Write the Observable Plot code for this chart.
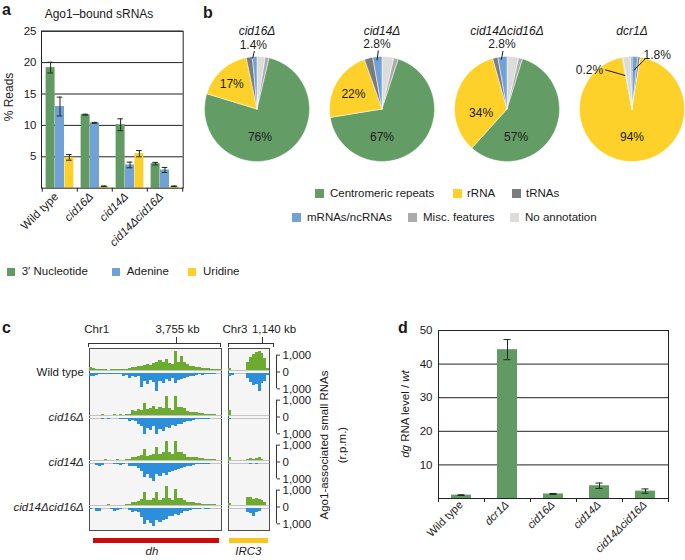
<!DOCTYPE html>
<html><head><meta charset="utf-8">
<script src="https://cdn.jsdelivr.net/npm/d3@7"></script>
<script src="https://cdn.jsdelivr.net/npm/@observablehq/plot@0.6"></script>
<style>
body{margin:0;width:685px;height:560px;position:relative;overflow:hidden;background:#fff;font-family:"Liberation Sans",Arial,Helvetica,sans-serif;color:#1a1a1a}
</style></head><body>
<script>
// ---------------- DATA ----------------
// Panel a
const aSamples = ["Wild type", "cid16Δ", "cid14Δ", "cid14Δcid16Δ"];
const aSeries = ["3′ Nucleotide", "Adenine", "Uridine"];
const aNucleotide = [19.2, 11.7, 10.1, 3.9];
const aNucleotideErr = [0.85, 0.08, 0.95, 0.2];
const aAdenine = [13.0, 10.4, 3.7, 2.9];
const aAdenineErr = [1.5, 0.08, 0.45, 0.4];
const aUridine = [4.9, 0.3, 5.5, 0.3];
const aUridineErr = [0.45, 0.05, 0.5, 0.05];
const aTicks = [5, 10, 15, 20, 25];

// Panel b
const pieSamples = ["cid16Δ", "cid14Δ", "cid14Δcid16Δ", "dcr1Δ"];
const pieCategories = ["Centromeric repeats", "rRNA", "tRNAs", "mRNAs/ncRNAs", "Misc. features", "No annotation"];
const pieCid16 = [76, 17, 1.9, 1.4, 1.2, 2.5];
const pieCid14 = [67, 22, 2.6, 2.8, 1.4, 3.6];
const pieCid14Cid16 = [57, 34, 1.6, 2.8, 1.2, 3.6];
const pieDcr1 = [0.2, 94, 0.7, 1.8, 0.5, 2.3];

// Panel c (reads per million, binned)
const cSamples = ["Wild type", "cid16Δ", "cid14Δ", "cid14Δcid16Δ"];
const dhWildTypePlus = [150,100,40,30,50,30,20,40,30,60,50,60,80,100,150,180,220,260,300,350,280,400,450,600,500,650,420,380,1150,450,820,500,350,250,220,200,180,120,100,90,80,50,40,30];
const dhWildTypeMinus = [150,200,100,80,60,80,50,60,80,40,60,200,120,300,150,250,200,850,500,650,400,550,1050,450,600,350,500,300,600,400,350,300,250,200,150,100,80,120,60,40,50,30,20,20];
const dhCid16Plus = [20,0,20,0,30,20,0,20,30,0,30,20,30,40,300,250,350,300,700,350,400,550,350,450,400,1100,400,300,1150,450,500,400,220,200,180,150,120,100,80,60,60,30,20,10];
const dhCid16Minus = [0,0,0,0,30,0,40,0,20,0,60,80,30,150,100,200,350,500,950,600,700,500,950,650,750,550,600,400,500,350,350,250,200,150,100,80,60,40,30,50,20,0,0,0];
const dhCid14Plus = [20,0,0,20,0,30,0,20,0,30,20,0,30,60,150,200,250,300,650,250,300,350,800,350,450,1150,500,350,1100,450,450,350,200,180,150,150,120,100,80,60,40,60,20,0];
const dhCid14Minus = [0,0,100,150,100,0,0,0,60,40,100,80,0,150,200,200,300,500,850,650,900,1050,650,800,600,700,550,500,400,350,300,250,200,150,100,80,50,40,60,40,30,0,0,0];
const dhDoublePlus = [20,0,0,0,20,0,30,0,20,0,20,0,30,40,150,200,250,350,750,300,300,400,750,300,400,1100,400,300,950,400,400,300,200,180,150,120,100,80,60,50,40,30,20,0];
const dhDoubleMinus = [60,0,150,200,0,0,0,80,150,100,60,0,0,100,250,150,250,550,950,700,900,1050,700,850,700,650,500,450,350,400,300,200,150,100,80,60,40,30,60,40,30,0,0,0];
const irc3WildTypePlus = [100,0,0,0,0,0,450,750,950,1050,1100,1000,700,100];
const irc3WildTypeMinus = [150,100,0,0,0,0,300,550,700,650,1050,600,450,100];
const irc3Cid16Plus = [300,0,0,0,0,0,0,0,0,0,0,0,0,0];
const irc3Cid16Minus = [80,0,0,0,0,0,0,0,0,0,0,0,0,0];
const irc3Cid14Plus = [150,0,0,0,0,0,60,120,80,100,150,60,0,0];
const irc3Cid14Minus = [0,0,0,0,0,0,0,50,30,60,0,0,0,0];
const irc3DoublePlus = [100,0,0,0,0,0,500,450,350,400,350,300,150,0];
const irc3DoubleMinus = [0,0,0,0,0,0,250,300,500,250,200,0,0,0];
const cScaleTicks = [-1000, 0, 1000];

// Panel d
const dSamples = ["Wild type", "dcr1Δ", "cid16Δ", "cid14Δ", "cid14Δcid16Δ"];
const dLevel = [1.0, 44.3, 1.35, 3.8, 2.2];
const dErr = [0.1, 3.0, 0.15, 0.8, 0.65];
const dTicks = [10, 20, 30, 40, 50];

// ---------------- STYLE / HELPERS ----------------
const GREEN = "#619b63", BLUE = "#70a2d7", YELLOW = "#fcd02b";
const pieColors = ["#649c66", "#fdd12a", "#7c7c7c", "#72a1d5", "#ababab", "#dcdcdc"];
const FONT = "'Liberation Sans', Arial, Helvetica, sans-serif";
const baseStyle = {fontFamily: FONT, fontSize: "11.5px", color: "#1a1a1a", background: "transparent", overflow: "visible"};
function mount(svg, left, top) {
  svg.style.position = "absolute"; svg.style.left = left + "px"; svg.style.top = top + "px";
  document.body.appendChild(svg);
}
function txt(s, x, y, o = {}) {
  const fs = o.size || 11.5;
  const el = document.createElement("div");
  el.innerHTML = s;
  const tx = o.anchor === "middle" ? "-50%" : o.anchor === "end" ? "-100%" : "0";
  el.style.cssText = `position:absolute;white-space:nowrap;line-height:1;font-size:${fs}px;left:${x}px;top:${y - 0.83 * fs}px;transform:translateX(${tx});` +
    (o.bold ? "font-weight:bold;" : "") + (o.italic ? "font-style:italic;" : "");
  document.body.appendChild(el);
}
function vtxt(s, cx, cy, o = {}) {
  const fs = o.size || 11.5;
  const el = document.createElement("div");
  el.innerHTML = s;
  el.style.cssText = `position:absolute;white-space:nowrap;line-height:1;font-size:${fs}px;left:${cx}px;top:${cy}px;transform:translate(-50%,-50%) rotate(-90deg);`;
  document.body.appendChild(el);
}
function box(x, y, w, h, css) {
  const el = document.createElement("div");
  el.style.cssText = `position:absolute;left:${x}px;top:${y}px;width:${w}px;height:${h}px;box-sizing:border-box;${css}`;
  document.body.appendChild(el);
}
const hline = (x1, x2, y) => box(x1, y, x2 - x1, 1, "background:#333");
const vline = (x, y1, y2) => box(x, y1, 1, y2 - y1, "background:#333");
const italicIf = s => s !== "Wild type";

// ---------------- PANEL A ----------------
{
  const values = [aNucleotide, aAdenine, aUridine];
  const errs = [aNucleotideErr, aAdenineErr, aUridineErr];
  const fills = [GREEN, BLUE, YELLOW];
  const rows = [];
  aSamples.forEach((s, i) => aSeries.forEach((k, j) => rows.push({sample: s, series: k, j, value: values[j][i], err: errs[j][i]})));
  const mL = 41, mT = 30.7, fw = 141.7, fh = 157, mR = 4, mB = 75;
  const band = fw / aSamples.length, bw = 9.4, cap = 6;
  const marks = [Plot.ruleY(aTicks, {stroke: "#222"})];
  aSeries.forEach((k, j) => {
    const sub = rows.filter(d => d.j === j);
    const dx = (j - 1) * bw;
    marks.push(
      Plot.barY(sub, {x: "sample", y: "value", fill: fills[j], insetLeft: (band - bw) / 2, insetRight: (band - bw) / 2, dx}),
      Plot.ruleX(sub, {x: "sample", y1: d => d.value - d.err, y2: d => d.value + d.err, dx, stroke: "#1d2b1d", strokeWidth: 1}),
      Plot.tickY(sub, {x: "sample", y: d => d.value + d.err, dx, insetLeft: (band - cap) / 2, insetRight: (band - cap) / 2, stroke: "#1d2b1d"}),
      Plot.tickY(sub, {x: "sample", y: d => d.value - d.err, dx, insetLeft: (band - cap) / 2, insetRight: (band - cap) / 2, stroke: "#1d2b1d"})
    );
  });
  marks.push(
    Plot.frame({stroke: "#222"}),
    Plot.axisY(aTicks, {tickSize: 0, tickPadding: 5, label: null}),
    Plot.axisX({tickSize: 4, tickFormat: () => "", dx: -band / 2, label: null, stroke: "#222"}),
    Plot.axisX([aSamples[aSamples.length - 1]], {tickSize: 4, tickFormat: () => "", dx: band / 2, label: null, stroke: "#222"}),
    Plot.text(aSamples.filter(s => !italicIf(s)), {x: d => d, text: d => d, frameAnchor: "bottom", rotate: -45, textAnchor: "end", dy: 9, dx: -1}),
    Plot.text(aSamples.filter(italicIf), {x: d => d, text: d => d, frameAnchor: "bottom", rotate: -45, textAnchor: "end", dy: 9, dx: -1, fontStyle: "italic"})
  );
  const svg = Plot.plot({
    width: mL + fw + mR, height: mT + fh + mB,
    marginLeft: mL, marginTop: mT, marginRight: mR, marginBottom: mB,
    style: baseStyle,
    x: {domain: aSamples, padding: 0},
    y: {domain: [0, 25]},
    marks
  });
  mount(svg, 0, 0);
  txt("a", 2, 15, {bold: true, size: 16});
  txt("Ago1–bound sRNAs", 99, 18, {anchor: "middle", size: 12});
  vtxt("% Reads", 9, 97, {size: 12});
  const legX = [[7.3, 21.7], [111.7, 126.7], [188.3, 203]];
  aSeries.forEach((k, j) => {
    box(legX[j][0], 267.7, 8, 8, `background:${fills[j]}`);
    txt(k, legX[j][1], 276, {size: 11.5});
  });
}

// ---------------- PANEL B ----------------
{
  const pieValues = [pieCid16, pieCid14, pieCid14Cid16, pieDcr1];
  // clockwise drawing order from 12 o'clock (layout)
  const orderStd = ["No annotation", "Misc. features", "Centromeric repeats", "rRNA", "tRNAs", "mRNAs/ncRNAs"];
  const drawOrder = {"cid16Δ": orderStd, "cid14Δ": orderStd, "cid14Δcid16Δ": orderStd,
    "dcr1Δ": ["mRNAs/ncRNAs", "tRNAs", "rRNA", "Centromeric repeats", "No annotation", "Misc. features"]};
  // inside label placement: [angle deg clockwise from top, radius]
  const insideAt = {
    "cid16Δ": {"Centromeric repeats": [174, 0.54], "rRNA": [315, 0.68]},
    "cid14Δ": {"Centromeric repeats": [180, 0.53], "rRNA": [297, 0.61]},
    "cid14Δcid16Δ": {"Centromeric repeats": [162, 0.56], "rRNA": [261, 0.5]},
    "dcr1Δ": {"rRNA": [180, 0.54]}
  };
  // outside callouts (label + leader line), in radius units
  const callouts = [
    {pie: "cid16Δ", cat: "mRNAs/ncRNAs", tx: -0.07, ty: 1.22, x1: -0.05, y1: 1.105, x2: -0.084, y2: 0.962},
    {pie: "cid14Δ", cat: "mRNAs/ncRNAs", tx: -0.095, ty: 1.23, x1: -0.07, y1: 1.115, x2: -0.095, y2: 0.925},
    {pie: "cid14Δcid16Δ", cat: "mRNAs/ncRNAs", tx: -0.095, ty: 1.23, x1: -0.076, y1: 1.103, x2: -0.108, y2: 0.94},
    {pie: "dcr1Δ", cat: "mRNAs/ncRNAs", tx: 0.48, ty: 1.02, x1: 0.253, y1: 0.956, x2: 0.03, y2: 0.733},
    {pie: "dcr1Δ", cat: "Centromeric repeats", tx: -0.81, ty: 0.733, x1: -0.51, y1: 0.747, x2: -0.128, y2: 0.638}
  ];
  const pts = [], inLabels = [];
  const lookup = {};
  pieSamples.forEach((p, pi) => {
    const vals = pieValues[pi];
    const total = d3.sum(vals);
    lookup[p] = {};
    pieCategories.forEach((c, ci) => lookup[p][c] = vals[ci]);
    let a = 0;
    drawOrder[p].forEach(c => {
      const v = lookup[p][c];
      const a0 = a, a1 = a + v / total * 360;
      a = a1;
      const key = p + "|" + c;
      pts.push({pie: p, cat: c, key, x: 0, y: 0});
      const n = Math.max(2, Math.ceil((a1 - a0) / 1.5));
      for (let k = 0; k <= n; k++) {
        const t = (a0 + (a1 - a0) * k / n) * Math.PI / 180;
        pts.push({pie: p, cat: c, key, x: Math.sin(t), y: Math.cos(t)});
      }
      pts.push({pie: p, cat: c, key, x: 0, y: 0});
      const at = insideAt[p][c];
      if (at) {
        const t = at[0] * Math.PI / 180;
        inLabels.push({pie: p, x: at[1] * Math.sin(t), y: at[1] * Math.cos(t), text: v + "%"});
      }
    });
  });
  callouts.forEach(d => d.text = lookup[d.pie][d.cat] + "%");
  const svg = Plot.plot({
    width: 480, height: 165, marginLeft: 0, marginRight: 0, marginTop: 56, marginBottom: 4,
    style: baseStyle,
    fx: {domain: pieSamples, paddingInner: 0.16, paddingOuter: 0, axis: null},
    x: {domain: [-1, 1], axis: null},
    y: {domain: [-1, 1], axis: null},
    color: {domain: pieCategories, range: pieColors},
    marks: [
      Plot.line(pts, {fx: "pie", x: "x", y: "y", z: "key", fill: "cat", stroke: "white", strokeWidth: 0.5, curve: "linear"}),
      Plot.text(inLabels, {fx: "pie", x: "x", y: "y", text: "text", fontSize: 12}),
      Plot.link(callouts, {fx: "pie", x1: "x1", y1: "y1", x2: "x2", y2: "y2", stroke: "#1a1a1a", strokeWidth: 1}),
      Plot.text(callouts, {fx: "pie", x: "tx", y: "ty", text: "text", fontSize: 12}),
      Plot.text(pieSamples, {fx: d => d, x: () => 0, y: () => 1.476, text: d => d, fontStyle: "italic", fontSize: 12})
    ]
  });
  mount(svg, 204.2, 0);
  txt("b", 203, 18, {bold: true, size: 16});
  const legend = [[315, 330, 189.3], [453, 467, 189.3], [512, 526, 189.3], [292, 307, 213], [408, 423, 213], [510, 525, 213]];
  pieCategories.forEach((c, i) => {
    const [sx, tx, sy] = legend[i];
    box(sx, sy, 8.5, 8.5, `background:${pieColors[i]}`);
    txt(c, tx, sy + 8.3, {size: 11.5});
  });
}

// ---------------- PANEL C ----------------
{
  const dhPlus = [dhWildTypePlus, dhCid16Plus, dhCid14Plus, dhDoublePlus];
  const dhMinus = [dhWildTypeMinus, dhCid16Minus, dhCid14Minus, dhDoubleMinus];
  const irPlus = [irc3WildTypePlus, irc3Cid16Plus, irc3Cid14Plus, irc3DoublePlus];
  const irMinus = [irc3WildTypeMinus, irc3Cid16Minus, irc3Cid14Minus, irc3DoubleMinus];
  const toRows = (P, M) => cSamples.flatMap((s, i) => P[i].map((v, b) => ({sample: s, bin: b, plus: v, minus: M[i][b]})));
  const dhRows = toRows(dhPlus, dhMinus), irRows = toRows(irPlus, irMinus);
  const TG = "#6cab30", TB = "#2d8fda";
  const top = 348.3, fh = 181.7;
  const trackMarks = rows => [
    Plot.ruleY([0], {dy: -1.5, stroke: "#c4c4c4"}),
    Plot.ruleY([0], {dy: 1.5, stroke: "#c4c4c4"}),
    Plot.rect(rows, {fy: "sample", x1: "bin", x2: d => d.bin + 1, y1: () => 0, y2: "plus", fill: TG, dy: -1.5, inset: 0, shapeRendering: "crispEdges"}),
    Plot.rect(rows, {fy: "sample", x1: "bin", x2: d => d.bin + 1, y1: () => 0, y2: d => -d.minus, fill: TB, dy: 1.5, inset: 0, shapeRendering: "crispEdges"})
  ];
  // boxes
  box(88.6, top - 0.7, 133.8, fh + 1.4, "border:1.4px solid #4d4d4d;background:#f5f5f5");
  box(227.6, top - 0.7, 42.4, fh + 1.4, "border:1.4px solid #4d4d4d;background:#f5f5f5");
  const dhML = 89.3, dhW = 132.4;
  const svg1 = Plot.plot({
    width: dhML + dhW, height: fh, marginLeft: dhML, marginRight: 0, marginTop: 0, marginBottom: 0,
    style: baseStyle,
    fy: {domain: cSamples, padding: 0, axis: null},
    x: {domain: [0, dhPlus[0].length], axis: null},
    y: {domain: [-1335, 1335], axis: null},
    marks: [
      ...trackMarks(dhRows),
      Plot.text(cSamples.filter(s => !italicIf(s)), {fy: d => d, text: d => d, frameAnchor: "left", textAnchor: "end", dx: -6}),
      Plot.text(cSamples.filter(italicIf), {fy: d => d, text: d => d, frameAnchor: "left", textAnchor: "end", dx: -6, fontStyle: "italic"})
    ]
  });
  mount(svg1, 0, top);
  const irML = 228.3, irW = 41, nb = irPlus[0].length;
  const svg2 = Plot.plot({
    width: irML + irW + 60, height: fh, marginLeft: irML, marginRight: 60, marginTop: 0, marginBottom: 0,
    style: baseStyle,
    fy: {domain: cSamples, padding: 0, axis: null},
    x: {domain: [0, nb], axis: null},
    y: {domain: [-1335, 1335]},
    marks: [
      ...trackMarks(irRows),
      Plot.ruleX([nb], {y1: () => cScaleTicks[0], y2: () => cScaleTicks[2], dx: 6.7, stroke: "#333"}),
      Plot.axisY(cScaleTicks, {anchor: "right", tickSize: 3, tickPadding: 3, dx: 6.7, label: null, stroke: "#333",
        tickFormat: d => d3.format(",")(Math.abs(d))})
    ]
  });
  mount(svg2, 0, top);
  txt("c", 2, 333, {bold: true, size: 16});
  txt("Chr1", 96.7, 334, {anchor: "middle"});
  txt("3,755 kb", 177.5, 334, {anchor: "middle"});
  txt("Chr3", 235, 334, {anchor: "middle"});
  txt("1,140 kb", 274, 334, {anchor: "middle"});
  hline(88.3, 220.5, 343); vline(88.3, 343, 346.5); vline(219.7, 343, 346.5); vline(176.4, 337.3, 343);
  hline(227.7, 273.8, 343); vline(227.7, 343, 346.5); vline(273, 343, 346.5); vline(262, 337.3, 343);
  box(93, 537.7, 126, 5.6, "background:#cc0c0c");
  box(229, 537.7, 39, 5.6, "background:#fbc41e");
  txt("dh", 152, 556, {anchor: "middle", italic: true});
  txt("IRC3", 248.3, 556, {anchor: "middle", italic: true});
  vtxt("Ago1-associated small RNAs", 325, 445, {size: 11.5});
  vtxt("(r.p.m.)", 342.5, 445, {size: 11.5});
}

// ---------------- PANEL D ----------------
{
  const rows = dSamples.map((s, i) => ({sample: s, value: dLevel[i], err: dErr[i]}));
  const mL = 88, mT = 20, fw = 230, fh = 168, mR = 8, mB = 62;
  const band = fw / dSamples.length, bw = 20, cap = 7;
  const svg = Plot.plot({
    width: mL + fw + mR, height: mT + fh + mB,
    marginLeft: mL, marginTop: mT, marginRight: mR, marginBottom: mB,
    style: baseStyle,
    x: {domain: dSamples, padding: 0},
    y: {domain: [0, 50]},
    marks: [
      Plot.ruleY(dTicks, {stroke: "#222"}),
      Plot.barY(rows, {x: "sample", y: "value", fill: GREEN, insetLeft: (band - bw) / 2, insetRight: (band - bw) / 2}),
      Plot.ruleX(rows, {x: "sample", y1: d => d.value - d.err, y2: d => d.value + d.err, stroke: "#1d2b1d"}),
      Plot.tickY(rows, {x: "sample", y: d => d.value + d.err, insetLeft: (band - cap) / 2, insetRight: (band - cap) / 2, stroke: "#1d2b1d"}),
      Plot.tickY(rows, {x: "sample", y: d => d.value - d.err, insetLeft: (band - cap) / 2, insetRight: (band - cap) / 2, stroke: "#1d2b1d"}),
      Plot.frame({stroke: "#222"}),
      Plot.axisY(dTicks, {tickSize: 0, tickPadding: 6, label: null}),
      Plot.axisX({tickSize: 4, tickFormat: () => "", dx: -band / 2, label: null, stroke: "#222"}),
      Plot.axisX([dSamples[dSamples.length - 1]], {tickSize: 4, tickFormat: () => "", dx: band / 2, label: null, stroke: "#222"}),
      Plot.text(dSamples.filter(s => !italicIf(s)), {x: d => d, text: d => d, frameAnchor: "bottom", rotate: -45, textAnchor: "end", dy: 7, dx: 2, fontSize: 11}),
      Plot.text(dSamples.filter(italicIf), {x: d => d, text: d => d, frameAnchor: "bottom", rotate: -45, textAnchor: "end", dy: 7, dx: 2, fontSize: 11, fontStyle: "italic"})
    ]
  });
  mount(svg, 350, 310);
  txt("d", 398, 333, {bold: true, size: 16});
  vtxt("<i>dg</i> RNA level / <i>wt</i>", 406, 414, {size: 11.5});
}
</script>
</body></html>
